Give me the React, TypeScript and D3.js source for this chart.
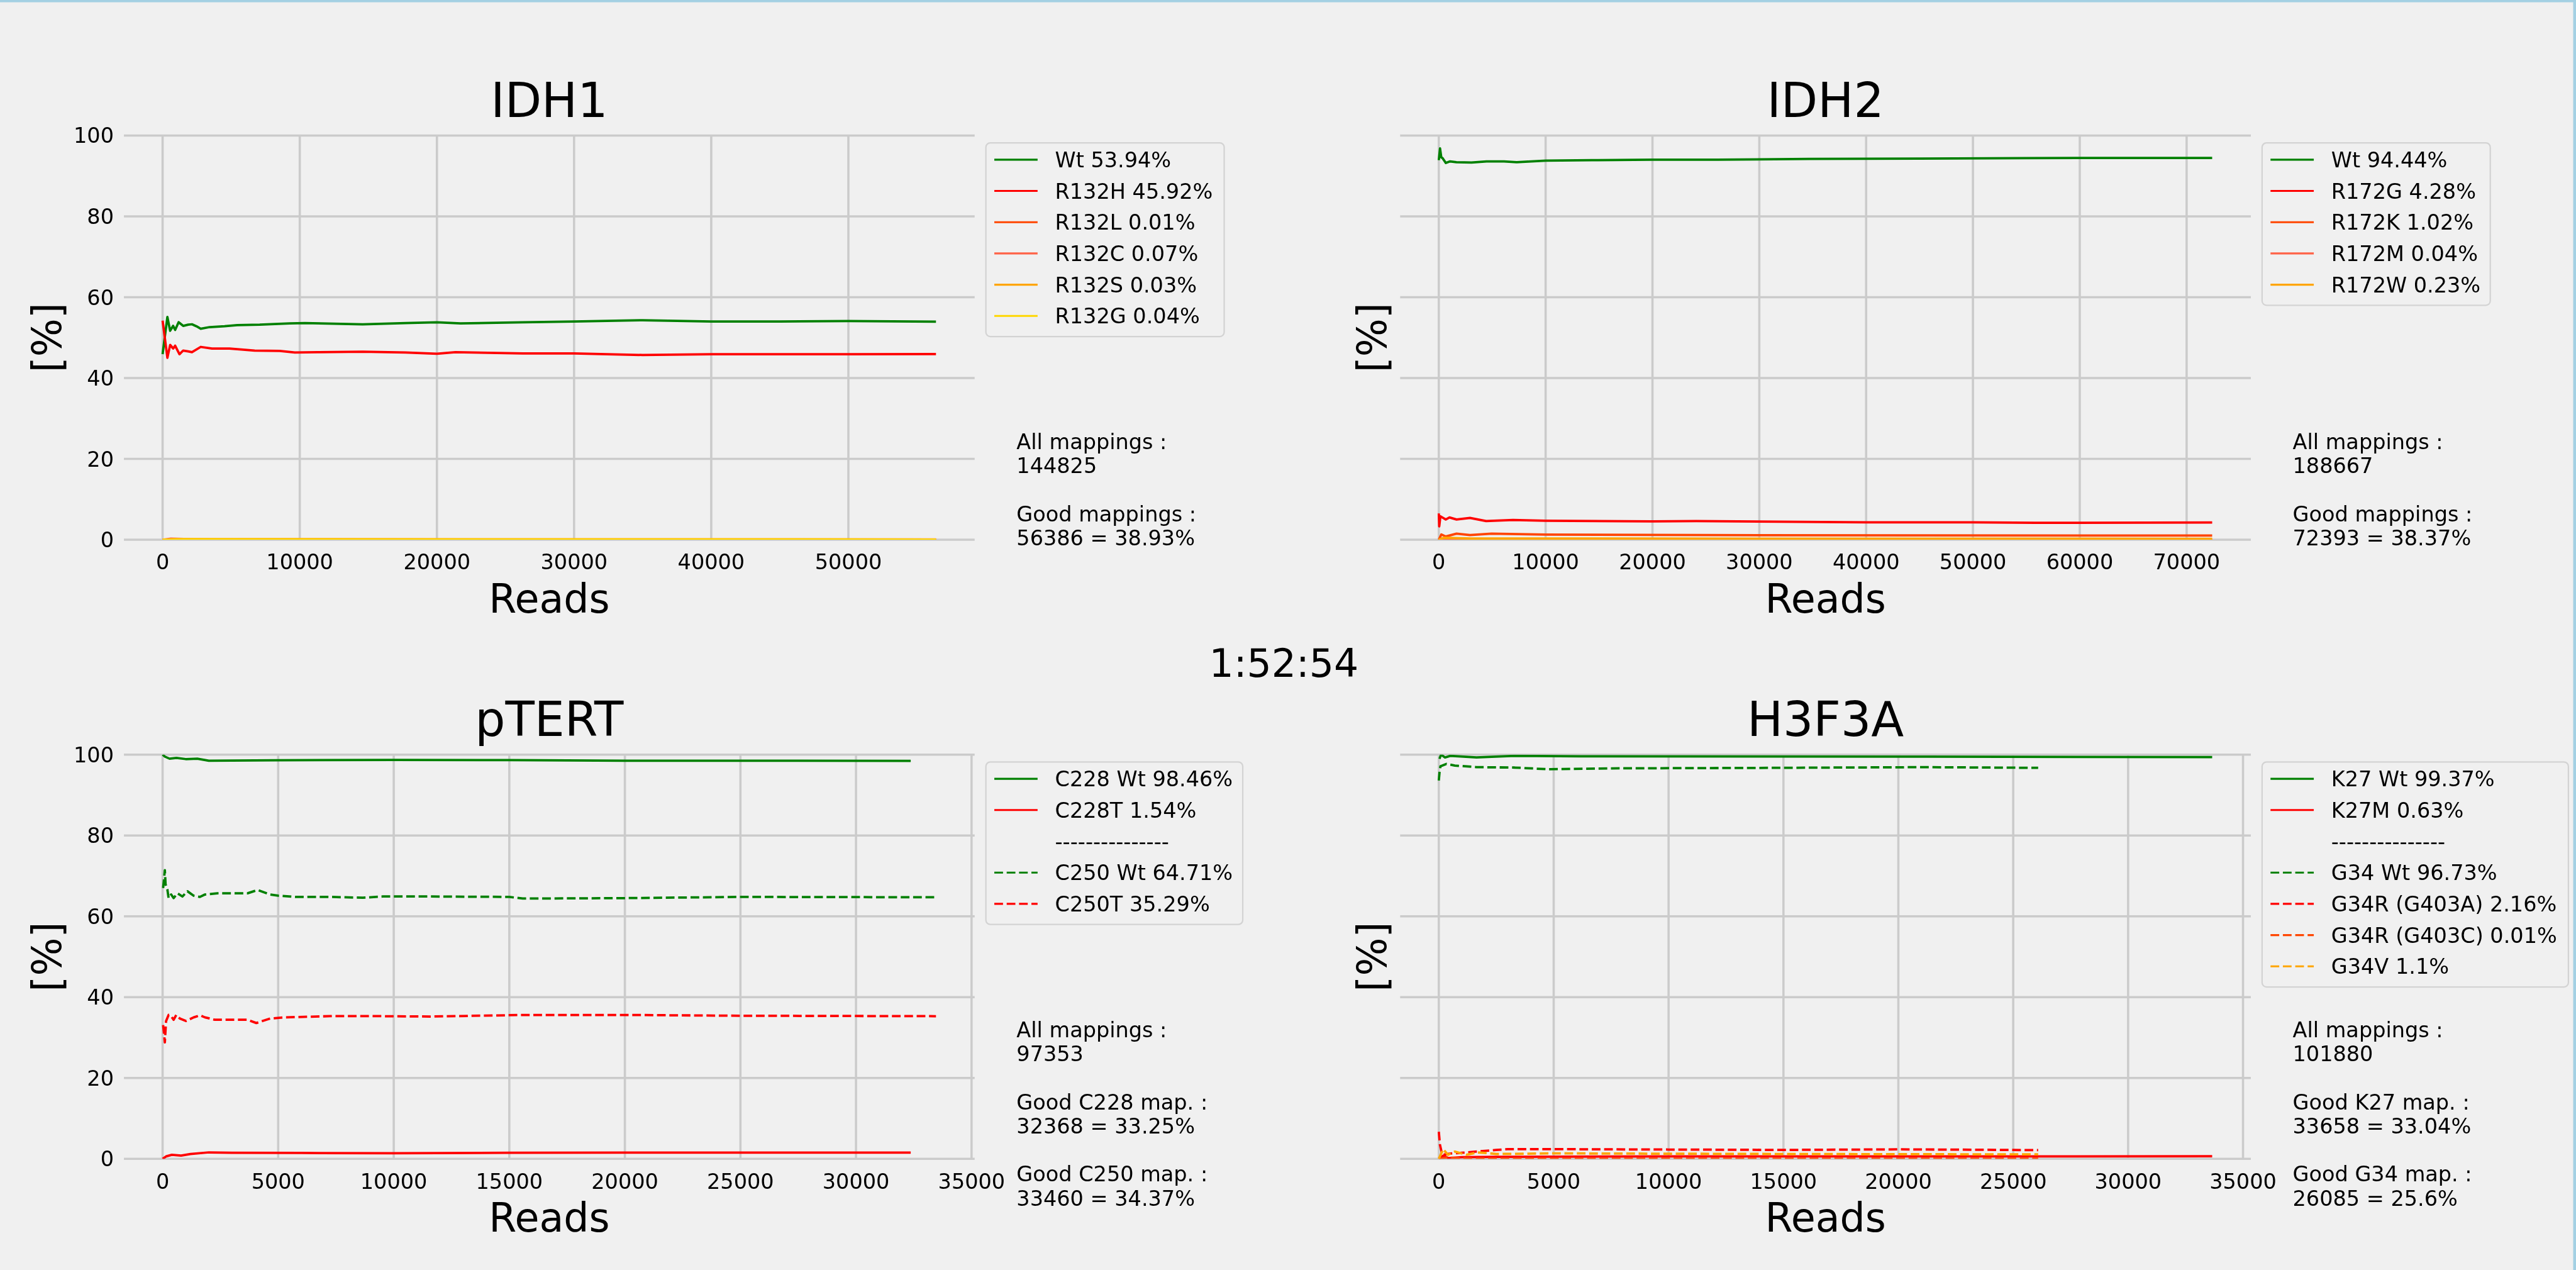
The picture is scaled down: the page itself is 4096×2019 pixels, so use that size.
import React from 'react';
import * as d3 from 'd3';

type Pt = [number, number];

// ---------------- DATA ----------------
// IDH1
const idh1Wt: Pt[] = [[0,45.9],[348,55.1],[549,51.7],[767,52.9],[914,51.9],[1168,53.8],[1500,52.9],[1866,53.2],[2140,53.3],[2468,52.8],[2779,52.2],[3423,52.6],[4518,52.8],[5436,53.1],[7080,53.2],[9277,53.5],[10375,53.6],[14585,53.3],[17692,53.6],[20000,53.8],[21722,53.5],[26260,53.8],[30000,54.0],[35000,54.3],[40000,54.0],[45000,54.0],[50000,54.1],[56386,53.94]];
const idh1R132H: Pt[] = [[0,54.2],[348,45.0],[549,48.2],[767,47.3],[914,48.0],[1230,45.9],[1500,46.8],[1866,46.6],[2140,46.4],[2779,47.7],[3600,47.3],[4880,47.3],[6710,46.8],[8540,46.7],[9640,46.3],[11290,46.4],[14585,46.5],[17692,46.3],[20000,46.0],[21350,46.4],[26260,46.1],[30000,46.1],[35000,45.7],[40000,45.9],[50000,45.9],[56386,45.92]];
const idh1R132L: Pt[] = [[0,0],[1200,0.08],[4000,0.03],[56386,0.01]];
const idh1R132C: Pt[] = [[0,0],[600,0.25],[2000,0.12],[10000,0.08],[56386,0.07]];
const idh1R132S: Pt[] = [[0,0],[900,0.1],[56386,0.03]];
const idh1R132G: Pt[] = [[0,0],[1500,0.08],[56386,0.04]];

// IDH2
const idh2Wt: Pt[] = [[0,93.9],[116,96.8],[232,94.6],[350,94.4],[660,93.2],[1060,93.6],[1650,93.4],[3060,93.3],[4470,93.6],[6100,93.6],[7290,93.4],[10016,93.8],[14330,93.9],[19960,94.0],[26070,94.0],[34700,94.2],[45000,94.3],[55000,94.4],[62000,94.45],[72393,94.44]];
const idh2R172G: Pt[] = [[0,6.5],[40,3.3],[150,5.8],[650,5.0],[1000,5.5],[1660,5.0],[2920,5.4],[4430,4.6],[6950,4.9],[10000,4.7],[20000,4.55],[24100,4.6],[40000,4.3],[50000,4.3],[55800,4.17],[72393,4.28]];
const idh2R172K: Pt[] = [[0,0],[240,1.3],[650,0.8],[1660,1.5],[2920,1.15],[4940,1.5],[10000,1.25],[30000,1.1],[72393,1.02]];
const idh2R172M: Pt[] = [[0,0],[300,0.3],[2000,0.1],[72393,0.04]];
const idh2R172W: Pt[] = [[0,0],[500,0.5],[3000,0.3],[72393,0.23]];

// pTERT
const tertC228Wt: Pt[] = [[0,100],[100,99.5],[300,99.0],[600,99.2],[1000,98.9],[1500,99.0],[2000,98.5],[5000,98.6],[10000,98.7],[15000,98.65],[20000,98.5],[25000,98.5],[32368,98.46]];
const tertC228T: Pt[] = [[0,0],[150,0.6],[400,1.0],[800,0.8],[1200,1.2],[2000,1.6],[3000,1.5],[6000,1.45],[10000,1.4],[15000,1.5],[20000,1.55],[32368,1.54]];
const tertC250Wt: Pt[] = [[22,67.0],[97,71.4],[129,67.9],[205,66.7],[260,64.5],[370,65.4],[476,64.5],[640,65.7],[857,64.9],[1074,66.2],[1344,65.1],[1615,64.8],[1832,65.4],[2374,65.7],[3675,65.7],[4109,66.5],[4650,65.4],[5000,65.1],[5734,64.8],[7250,64.8],[8660,64.6],[9530,64.9],[11590,64.9],[15000,64.8],[15580,64.4],[20000,64.5],[25000,64.8],[33460,64.71]];
const tertC250T: Pt[] = [[22,33.1],[97,28.8],[150,34.1],[260,35.6],[370,35.3],[476,34.4],[590,35.6],[750,34.7],[1020,34.1],[1344,35.0],[1615,35.5],[1832,35.0],[2265,34.4],[3675,34.4],[4055,33.6],[4650,34.7],[5300,35.0],[7250,35.3],[9420,35.3],[11590,35.2],[15580,35.6],[20000,35.6],[25000,35.4],[33460,35.29]];

// H3F3A
const h3K27Wt: Pt[] = [[30,98.96],[100,100],[270,99.3],[500,99.7],[1640,99.3],[3300,99.7],[6200,99.6],[21200,99.5],[33658,99.37]];
const h3K27M: Pt[] = [[0,0],[200,0.8],[400,0.2],[1000,0.4],[2500,0.5],[10000,0.6],[20000,0.62],[33658,0.63]];
const h3G34Wt: Pt[] = [[0,93.6],[30,95.5],[70,97.1],[330,97.7],[700,97.3],[1640,96.9],[3300,96.8],[4700,96.4],[7500,96.6],[13100,96.7],[21200,96.9],[26085,96.73]];
const h3G34RA: Pt[] = [[0,6.7],[50,3.5],[150,1.0],[500,1.3],[1000,1.5],[2500,2.2],[3000,2.4],[5000,2.4],[10000,2.3],[15000,2.2],[20000,2.35],[26085,2.16]];
const h3G34RC: Pt[] = [[0,0],[300,0.3],[1500,0.05],[26085,0.01]];
const h3G34V: Pt[] = [[0,0],[190,2.4],[400,1.0],[700,1.8],[1200,1.0],[1700,1.6],[2500,1.2],[5000,1.35],[15000,1.2],[26085,1.1]];

// Labels / ticks
const yTickValues = [0, 20, 40, 60, 80, 100];
const idh1XTicks = [0, 10000, 20000, 30000, 40000, 50000];
const idh2XTicks = [0, 10000, 20000, 30000, 40000, 50000, 60000, 70000];
const lowXTicks = [0, 5000, 10000, 15000, 20000, 25000, 30000, 35000];

const idh1Notes = ['All mappings :', '144825', '', 'Good mappings :', '56386 = 38.93%'];
const idh2Notes = ['All mappings :', '188667', '', 'Good mappings :', '72393 = 38.37%'];
const tertNotes = ['All mappings :', '97353', '', 'Good C228 map. :', '32368 = 33.25%', '', 'Good C250 map. :', '33460 = 34.37%'];
const h3Notes = ['All mappings :', '101880', '', 'Good K27 map. :', '33658 = 33.04%', '', 'Good G34 map. :', '26085 = 25.6%'];

const elapsed = '1:52:54';

// ---------------- STYLE / LAYOUT ----------------
const W = 4583, H = 2259;
const GREEN = '#008000', RED = '#ff0000', ORANGERED = '#ff4500', TOMATO = '#ff6347', ORANGE = '#ffa500', GOLD = '#ffd700';
const FONT = '"DejaVu Sans", sans-serif';
const SMALL = 37.5;
const AX_W = 1513.5, AX_H = 719;
const COL_X = [220.5, 2491];
const ROW_Y = [241, 1342.3];
const DASH = '15.5,6.5';

type S = { label: string; color: string | null; dashed: boolean; data: Pt[] | null };

interface PanelProps {
  x: number; y: number; title: string; xMax: number; xTicks: number[]; yTicks: boolean;
  series: S[]; legendW: number; notes: string[]; notesY: number; id: string;
}

function Panel(p: PanelProps) {
  const xs = d3.scaleLinear().domain([-0.05 * p.xMax, 1.05 * p.xMax]).range([p.x, p.x + AX_W]);
  const ys = d3.scaleLinear().domain([0, 100]).range([p.y + AX_H, p.y]);
  const line = d3.line<Pt>().x(d => xs(d[0])).y(d => ys(d[1]));
  const right = p.x + AX_W;
  const legX = right + 20, legY = p.y + 13;
  const rowH = 55.6;
  const legH = 30 + (p.series.length - 1) * rowH + 36.7;
  return (
    <g>
      <defs>
        <clipPath id={'clip-' + p.id}>
          <rect x={p.x} y={p.y} width={AX_W} height={AX_H} />
        </clipPath>
      </defs>
      {p.xTicks.map(t => (
        <line key={'vx' + t} x1={xs(t)} x2={xs(t)} y1={p.y} y2={p.y + AX_H} stroke="#cbcbcb" strokeWidth={4} />
      ))}
      {yTickValues.map(t => (
        <line key={'hy' + t} x1={p.x} x2={right} y1={ys(t)} y2={ys(t)} stroke="#cbcbcb" strokeWidth={4} />
      ))}
      <g clipPath={`url(#clip-${p.id})`}>
        {p.series.filter(s => s.data).map((s, i) => (
          <path key={'s' + i} d={line(s.data as Pt[]) || ''} fill="none" stroke={s.color as string}
            strokeWidth={4.2} strokeLinejoin="round" strokeDasharray={s.dashed ? DASH : undefined} />
        ))}
      </g>
      {p.xTicks.map(t => (
        <text key={'tx' + t} x={xs(t)} y={p.y + AX_H + 53} textAnchor="middle" fontSize={SMALL} fontFamily={FONT} fill="#000">{t}</text>
      ))}
      {p.yTicks && yTickValues.map(t => (
        <text key={'ty' + t} x={p.x - 18} y={ys(t) + 13.5} textAnchor="end" fontSize={SMALL} fontFamily={FONT} fill="#000">{t}</text>
      ))}
      <text x={p.x + AX_W / 2} y={p.y - 33} textAnchor="middle" fontSize={85} fontFamily={FONT} fill="#000">{p.title}</text>
      <text x={p.x + AX_W / 2} y={p.y + AX_H + 130} textAnchor="middle" fontSize={71} fontFamily={FONT} fill="#000">Reads</text>
      <text transform={`translate(${p.yTicks ? p.x - 112.5 : p.x - 25},${p.y + AX_H / 2}) rotate(-90)`} textAnchor="middle"
        fontSize={72} fontFamily={FONT} fill="#000">[%]</text>
      {/* legend */}
      <rect x={legX} y={legY} width={p.legendW} height={legH} rx={8} ry={8} fill="#f0f0f0" stroke="#d3d3d3" strokeWidth={2.5} />
      {p.series.map((s, i) => {
        const cy = legY + 30 + i * rowH;
        return (
          <g key={'l' + i}>
            {s.color && (
              <line x1={legX + 15} x2={legX + 92} y1={cy} y2={cy} stroke={s.color} strokeWidth={3.5}
                strokeDasharray={s.dashed ? DASH : undefined} />
            )}
            <text x={legX + 123} y={cy + 13.5} fontSize={SMALL} fontFamily={FONT} fill="#000">{s.label}</text>
          </g>
        );
      })}
      {p.notes.map((n, i) => (
        <text key={'n' + i} x={right + 74.5} y={p.notesY + i * 42.8} fontSize={SMALL} fontFamily={FONT} fill="#000">{n}</text>
      ))}
    </g>
  );
}

const SEP: S = { label: '---------------', color: null, dashed: false, data: null };

export default function App() {
  const idh1: S[] = [
    { label: 'Wt 53.94%', color: GREEN, dashed: false, data: idh1Wt },
    { label: 'R132H 45.92%', color: RED, dashed: false, data: idh1R132H },
    { label: 'R132L 0.01%', color: ORANGERED, dashed: false, data: idh1R132L },
    { label: 'R132C 0.07%', color: TOMATO, dashed: false, data: idh1R132C },
    { label: 'R132S 0.03%', color: ORANGE, dashed: false, data: idh1R132S },
    { label: 'R132G 0.04%', color: GOLD, dashed: false, data: idh1R132G },
  ];
  const idh2: S[] = [
    { label: 'Wt 94.44%', color: GREEN, dashed: false, data: idh2Wt },
    { label: 'R172G 4.28%', color: RED, dashed: false, data: idh2R172G },
    { label: 'R172K 1.02%', color: ORANGERED, dashed: false, data: idh2R172K },
    { label: 'R172M 0.04%', color: TOMATO, dashed: false, data: idh2R172M },
    { label: 'R172W 0.23%', color: ORANGE, dashed: false, data: idh2R172W },
  ];
  const tert: S[] = [
    { label: 'C228 Wt 98.46%', color: GREEN, dashed: false, data: tertC228Wt },
    { label: 'C228T 1.54%', color: RED, dashed: false, data: tertC228T },
    SEP,
    { label: 'C250 Wt 64.71%', color: GREEN, dashed: true, data: tertC250Wt },
    { label: 'C250T 35.29%', color: RED, dashed: true, data: tertC250T },
  ];
  const h3: S[] = [
    { label: 'K27 Wt 99.37%', color: GREEN, dashed: false, data: h3K27Wt },
    { label: 'K27M 0.63%', color: RED, dashed: false, data: h3K27M },
    SEP,
    { label: 'G34 Wt 96.73%', color: GREEN, dashed: true, data: h3G34Wt },
    { label: 'G34R (G403A) 2.16%', color: RED, dashed: true, data: h3G34RA },
    { label: 'G34R (G403C) 0.01%', color: ORANGERED, dashed: true, data: h3G34RC },
    { label: 'G34V 1.1%', color: ORANGE, dashed: true, data: h3G34V },
  ];
  return (
    <svg width={4096} height={2019} viewBox={`0 0 ${W} ${H}`} style={{ position: 'fixed', left: 0, top: 0, display: 'block' }}>
      <rect x={0} y={0} width={W} height={H} fill="#f0f0f0" />
      <Panel id="a" x={COL_X[0]} y={ROW_Y[0]} title="IDH1" xMax={56386} xTicks={idh1XTicks} yTicks={true}
        series={idh1} legendW={424} notes={idh1Notes} notesY={798.6} />
      <Panel id="b" x={COL_X[1]} y={ROW_Y[0]} title="IDH2" xMax={72393} xTicks={idh2XTicks} yTicks={false}
        series={idh2} legendW={406} notes={idh2Notes} notesY={798.6} />
      <Panel id="c" x={COL_X[0]} y={ROW_Y[1]} title="pTERT" xMax={33460} xTicks={lowXTicks} yTicks={true}
        series={tert} legendW={457} notes={tertNotes} notesY={1845} />
      <Panel id="d" x={COL_X[1]} y={ROW_Y[1]} title="H3F3A" xMax={33658} xTicks={lowXTicks} yTicks={false}
        series={h3} legendW={545} notes={h3Notes} notesY={1845} />
      <text x={2284} y={1204} textAnchor="middle" fontSize={69} fontFamily={FONT} fill="#000">{elapsed}</text>
      <rect x={0} y={0} width={W} height={4} fill="#a3d0e3" />
      <rect x={W - 5} y={0} width={5} height={H} fill="#a3d0e3" />
    </svg>
  );
}
